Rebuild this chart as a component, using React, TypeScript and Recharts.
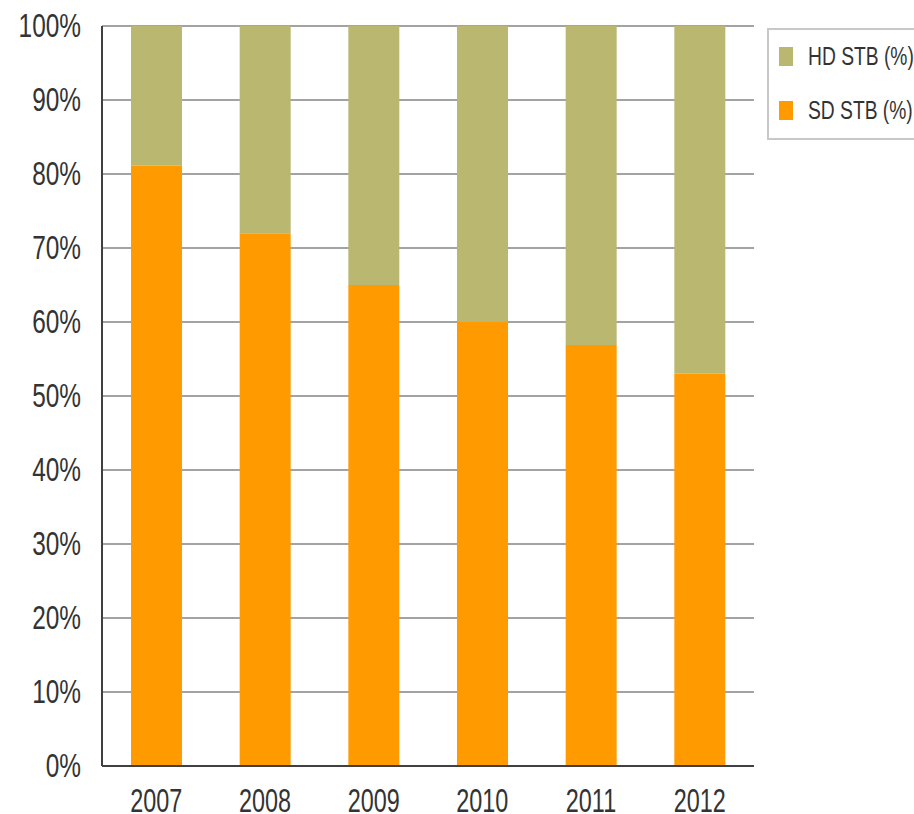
import React from 'react';
import { BarChart, Bar, XAxis, YAxis, CartesianGrid } from 'recharts';

const years = ['2007', '2008', '2009', '2010', '2011', '2012'];
const sdShare = [81.1, 72.0, 65.0, 60.0, 56.9, 53.0];
const hdShare = [18.9, 28.0, 35.0, 40.0, 43.1, 47.0];
const yTicks = [0, 10, 20, 30, 40, 50, 60, 70, 80, 90, 100];

const data = years.map((year, i) => ({ year, sd: sdShare[i], hd: hdShare[i] }));

const FONT = '"Liberation Sans", Arial, sans-serif';
const HD_COLOR = '#bab770';
const SD_COLOR = '#ff9a00';
const TEXT = '#333';
const SQUEEZE = 0.74;

const legendItems = [
  { label: 'HD STB (%)', color: HD_COLOR },
  { label: 'SD STB (%)', color: SD_COLOR },
];

// narrow-looking labels: stretch the regular sans horizontally
const YTick = (props: any) => {
  const { x, y, payload } = props;
  return (
    <g transform={`translate(${x},${y})`}>
      <text transform={`scale(${SQUEEZE},1)`} textAnchor="end" dominantBaseline="central"
        fontSize={33} fontFamily={FONT} fill={TEXT}>
        {`${payload.value}%`}
      </text>
    </g>
  );
};

const XTick = (props: any) => {
  const { x, y, payload } = props;
  return (
    <g transform={`translate(${x},${y})`}>
      <text transform={`scale(${SQUEEZE * 0.93},1)`} textAnchor="middle" dominantBaseline="central"
        fontSize={34} fontFamily={FONT} fill={TEXT}>
        {payload.value}
      </text>
    </g>
  );
};

const LegendBox = () => (
  <div
    style={{
      position: 'absolute',
      left: 767,
      top: 28,
      width: 170,
      height: 112,
      border: '2px solid #c8c8c8',
      boxSizing: 'border-box',
      fontFamily: FONT,
      fontSize: 26,
      color: TEXT,
    }}
  >
    {legendItems.map((it, i) => (
      <div
        key={it.label}
        style={{ position: 'absolute', left: 10, top: 17 + i * 54, height: 19, display: 'flex', alignItems: 'center' }}
      >
        <span style={{ width: 14, height: 19, background: it.color, display: 'inline-block' }} />
        <span
          style={{
            marginLeft: 15,
            whiteSpace: 'nowrap',
            lineHeight: '19px',
            display: 'inline-block',
            transform: `scaleX(${SQUEEZE})`,
            transformOrigin: 'left center',
          }}
        >
          {it.label}
        </span>
      </div>
    ))}
  </div>
);

export default function App() {
  return (
    <div style={{ position: 'absolute', left: 0, top: 0, width: 914, height: 814, overflow: 'hidden', background: '#fff' }}>
      <BarChart
        width={914}
        height={814}
        data={data}
        margin={{ top: 26, right: 160, bottom: 0, left: 0 }}
        barSize={51}
      >
        <CartesianGrid vertical={false} stroke="#a3a3a3" strokeWidth={2} />
        <XAxis
          dataKey="year"
          height={48}
          axisLine={{ stroke: '#404040', strokeWidth: 2 }}
          tickLine={false}
          tickSize={0}
          tickMargin={34}
          tick={<XTick />}
        />
        <XAxis xAxisId="top" orientation="top" dataKey="year" height={0} tick={false} tickLine={false}
          axisLine={{ stroke: '#404040', strokeWidth: 2 }} />
        <YAxis
          domain={[0, 100]}
          ticks={yTicks}
          interval={0}
          width={102}
          axisLine={{ stroke: '#404040', strokeWidth: 2 }}
          tickLine={false}
          tickSize={0}
          tickMargin={21}
          tick={<YTick />}
        />
        <YAxis yAxisId="right" orientation="right" width={0} tick={false} tickLine={false}
          axisLine={{ stroke: '#404040', strokeWidth: 2 }} />
        <Bar dataKey="sd" stackId="a" fill={SD_COLOR} isAnimationActive={false} />
        <Bar dataKey="hd" stackId="a" fill={HD_COLOR} isAnimationActive={false} />
      </BarChart>
      <LegendBox />
    </div>
  );
}
